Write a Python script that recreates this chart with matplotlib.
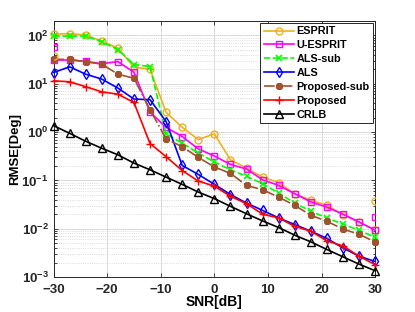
import numpy as np
import matplotlib
matplotlib.use("Agg")
import matplotlib.pyplot as plt
from matplotlib.ticker import LogLocator, NullFormatter, MultipleLocator

plt.rcParams['font.family'] = ['Liberation Sans', 'DejaVu Sans']
plt.rcParams['font.weight'] = 'bold'
plt.rcParams['mathtext.fontset'] = 'custom'
plt.rcParams['mathtext.rm'] = 'Liberation Sans:bold'
plt.rcParams['mathtext.it'] = 'Liberation Sans:bold'
plt.rcParams['mathtext.bf'] = 'Liberation Sans:bold'

snr = [-30, -27, -24, -21, -18, -15, -12, -9, -6, -3, 0, 3, 6, 9, 12, 15, 18, 21, 24, 27, 30]

esprit = [106, 109, 102, 76, 55, 22, 20, 2.56, 1.26, 0.70, 0.92, 0.267, 0.18, 0.117, 0.090,
          0.053, 0.039, 0.0305, 0.0196, 0.0135, 0.0095]
u_esprit = [31, 31, 29, 26, 28.8, 17.3, 2.6, 1.25, 0.81, 0.45, 0.32, 0.214, 0.172, 0.103, 0.079,
            0.053, 0.036, 0.028, 0.020, 0.0138, 0.0093]
als_sub = [97, 97, 97, 74, 51, 25, 22.7, 0.92, 0.59, 0.37, 0.24, 0.166, 0.121, 0.0855, 0.0547,
           0.034, 0.023, 0.0167, 0.0124, 0.0093, 0.0066]
als = [17.1, 22.4, 15.8, 12.5, 8.15, 4.83, 4.68, 1.65, 0.204, 0.133, 0.083, 0.051, 0.034, 0.024,
       0.0167, 0.0122, 0.0089, 0.0063, 0.0040, 0.0027, 0.0021]
proposed_sub = [32, 32, 28.5, 25.5, 15.8, 13, 2.9, 0.72, 0.50, 0.30, 0.19, 0.14, 0.079, 0.064,
                0.045, 0.0305, 0.019, 0.0143, 0.0098, 0.0077, 0.0053]
proposed = [11.5, 11, 8.7, 6.8, 6.1, 4.1, 0.58, 0.31, 0.16, 0.097, 0.076, 0.047, 0.033, 0.020,
            0.0167, 0.0112, 0.0089, 0.0056, 0.0044, 0.0027, 0.0018]
crlb = [1.36, 0.944, 0.646, 0.463, 0.339, 0.228, 0.166, 0.117, 0.0828, 0.0574, 0.0420, 0.0291,
        0.0204, 0.0145, 0.0106, 0.00735, 0.00535, 0.00372, 0.00262, 0.00185, 0.00135]

# stray edge markers visible in the reference
edge_snr = [-30, 30]
esprit_edge = [37.8, 0.037]
u_esprit_edge = [58, 0.0175]

fig = plt.figure(figsize=(4.15, 3.12), dpi=100)
ax = fig.add_axes([0.129, 0.112, 0.775, 0.821])

c_esp = '#EDB120'
c_uesp = '#FF00FF'
c_alssub = '#00FF00'
c_als = '#0000FF'
c_psub = '#A0522D'
c_prop = '#FF0000'
c_crlb = '#000000'

lw = 1.2
ms = 5
ax.plot(snr, esprit, '-', color=c_esp, lw=lw, marker='o', ms=ms, mfc='none', mew=1.0,
        label='ESPRIT', clip_on=False, zorder=3)
ax.plot(snr, u_esprit, '-', color=c_uesp, lw=lw, marker='s', ms=ms, mfc='none', mew=1.0,
        label='U-ESPRIT', clip_on=False, zorder=3)
ax.plot(snr, als_sub, '--', color=c_alssub, lw=lw, marker='x', ms=ms, mew=1.2,
        label='ALS-sub', clip_on=False, zorder=3)
ax.plot(snr, als, '-', color=c_als, lw=lw, marker='d', ms=ms + 0.5, mfc='none', mew=1.0,
        label='ALS', clip_on=False, zorder=3)
ax.plot(snr, proposed_sub, '-.', color=c_psub, lw=lw, marker=(8, 2, 0), ms=ms, mew=1.6,
        label='Proposed-sub', clip_on=False, zorder=3)
ax.plot(snr, proposed, '-', color=c_prop, lw=lw, marker='+', ms=ms + 1, mew=1.0,
        label='Proposed', clip_on=False, zorder=3)
ax.plot(snr, crlb, '-', color=c_crlb, lw=lw, marker='^', ms=ms + 0.5, mfc='none', mew=1.0,
        label='CRLB', clip_on=False, zorder=3)

ax.plot(edge_snr, esprit_edge, linestyle='none', color=c_esp, marker='o', ms=ms, mfc='none',
        mew=1.0, clip_on=True, zorder=3)
ax.plot(edge_snr, u_esprit_edge, linestyle='none', color=c_uesp, marker='s', ms=ms, mfc='none',
        mew=1.0, clip_on=True, zorder=3)

ax.set_yscale('log')
ax.set_xlim(-30, 30)
ax.set_ylim(1e-3, 200)
ax.xaxis.set_major_locator(MultipleLocator(10))
ax.yaxis.set_major_locator(LogLocator(base=10, numticks=10))
ax.yaxis.set_minor_locator(LogLocator(base=10, subs=np.arange(2, 10), numticks=10))
ax.yaxis.set_minor_formatter(NullFormatter())

ax.grid(True, which='major', color='#DADADA', lw=0.7, ls='-')
ax.grid(True, which='minor', axis='y', color='#D0D0D0', lw=0.6, ls=':')
ax.set_axisbelow(True)

ax.tick_params(which='both', direction='in', top=True, right=True, labelsize=9.5,
               width=0.6, colors='#262626')
ax.tick_params(which='major', length=3)
ax.tick_params(which='minor', length=1.8)
ax.tick_params(axis='x', which='major', pad=5)
for s in ax.spines.values():
    s.set_color('#262626')
    s.set_linewidth(0.7)

ax.set_xlabel('SNR[dB]', fontsize=10, fontweight='bold', labelpad=-1)
ax.set_ylabel('RMSE[Deg]', fontsize=9.5, fontweight='bold', labelpad=0)

leg = ax.legend(loc='upper right', fontsize=7.8, fancybox=False, framealpha=1,
                edgecolor='#262626', handlelength=2.8, handletextpad=0.25,
                labelspacing=0.36, borderpad=0.3, borderaxespad=0.2)
leg.get_frame().set_linewidth(0.7)

fig.savefig('out.png', dpi=100)
